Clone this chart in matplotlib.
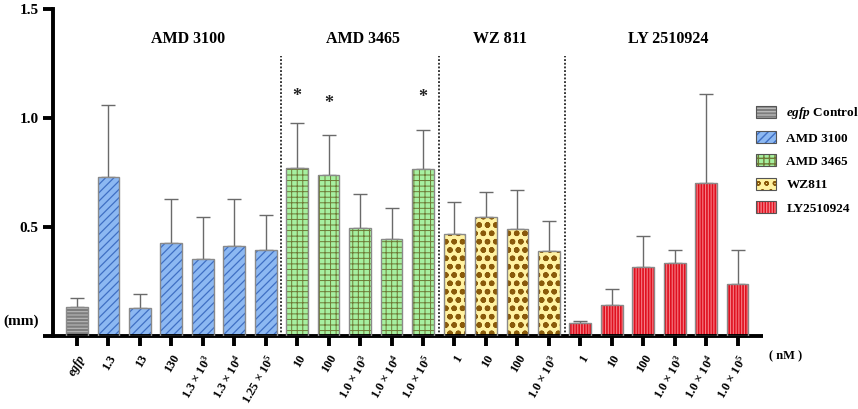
import numpy as np
import matplotlib
matplotlib.use("Agg")
import matplotlib.pyplot as plt
from matplotlib.patches import Patch

plt.rcParams['font.family'] = ['Liberation Serif', 'DejaVu Serif']
plt.rcParams['font.weight'] = 'bold'
plt.rcParams['mathtext.fontset'] = 'custom'
plt.rcParams['mathtext.rm'] = 'Liberation Serif:bold'
plt.rcParams['mathtext.bf'] = 'Liberation Serif:bold'
plt.rcParams['mathtext.it'] = 'Liberation Serif:italic:bold'

# ---------------- data ----------------
tick_labels = ['egfp', '1.3', '13', '130', '1.3 × 10$^{3}$', '1.3 × 10$^{4}$', '1.25 × 10$^{5}$',
               '10', '100', '1.0 × 10$^{3}$', '1.0 × 10$^{4}$', '1.0 × 10$^{5}$',
               '1', '10', '100', '1.0 × 10$^{3}$',
               '1', '10', '100', '1.0 × 10$^{3}$', '1.0 × 10$^{4}$', '1.0 × 10$^{5}$']
groups = ['egfp'] + ['AMD3100'] * 6 + ['AMD3465'] * 5 + ['WZ811'] * 4 + ['LY2510924'] * 6
means = [0.132, 0.729, 0.127, 0.427, 0.353, 0.413, 0.393,
         0.771, 0.739, 0.497, 0.445, 0.765,
         0.466, 0.546, 0.492, 0.390,
         0.060, 0.141, 0.317, 0.336, 0.702, 0.237]
upper = [0.176, 1.058, 0.194, 0.628, 0.546, 0.628, 0.553,
         0.977, 0.923, 0.653, 0.587, 0.946,
         0.613, 0.659, 0.671, 0.528,
         0.069, 0.217, 0.459, 0.393, 1.109, 0.393]
star_idx = [7, 8, 11]
star_y = [1.10, 1.066, 1.096]
group_titles = ['AMD 3100', 'AMD 3465', 'WZ 811', 'LY 2510924']
group_title_x = [3.53, 9.08, 13.45, 18.8]
divider_x = [6.5, 11.5, 15.5]
legend_labels = ['$\\it{egfp}$ Control', 'AMD 3100', 'AMD 3465', 'WZ811', 'LY2510924']
legend_keys = ['egfp', 'AMD3100', 'AMD3465', 'WZ811', 'LY2510924']

styles = {
    'egfp':      dict(face='#7d7d7d', hcol='#b8b8b8', hatch='-----', hlw=0.8),
    'AMD3100':   dict(face='#8cb8f2', hcol='#3f6fc4', hatch='////', hlw=0.9),
    'AMD3465':   dict(face='#a6f0a0', hcol='#6e7a36', hatch='+++', hlw=0.7),
    'WZ811':     dict(face='#fff2a2', hcol='#8a5a0a', hatch='oo', hlw=1.6),
    'LY2510924': dict(face='#f57e86', hcol='#e0101e', hatch='||||||', hlw=1.2),
}
edge_col = '#8a8a8a'

means = np.array(means)
upper = np.array(upper)
err = upper - means
x = np.arange(len(means))

fig = plt.figure(figsize=(8.58, 4.09), dpi=100)
ax = fig.add_axes([0.0614, 0.1785, 0.889 - 0.0614, 0.978 - 0.1785])

width = 0.69
for key in legend_keys:
    idx = [i for i, g in enumerate(groups) if g == key]
    st = styles[key]
    with plt.rc_context({'hatch.linewidth': st['hlw']}):
        ax.bar(x[idx], means[idx], width=width, color=st['face'], edgecolor=st['hcol'],
               hatch=st['hatch'], linewidth=0, zorder=2)
    ax.bar(x[idx], means[idx], width=width, facecolor='none', edgecolor=edge_col,
           linewidth=1.0, zorder=3)

ax.errorbar(x, means, yerr=[np.zeros_like(err), err], fmt='none', ecolor='#6a6a6a',
            elinewidth=1.0, capsize=4.7, capthick=1.0, zorder=1)

for i, yv in zip(star_idx, star_y):
    ax.text(x[i], yv, '*', ha='center', va='center', fontsize=13, color='#222222')

for t, xv in zip(group_titles, group_title_x):
    ax.text(xv, 1.362, t, ha='center', va='center', fontsize=11.5, fontweight='bold')

for dv in divider_x:
    ax.plot([dv, dv], [0, 1.284], linestyle=(0, (1.2, 1.2)), color='black', lw=1.1, zorder=1)

ax.set_xlim(-0.77, 21.8)
ax.set_ylim(0, 1.5)
ax.set_yticks([0, 0.5, 1.0, 1.5])
ax.set_yticklabels(['', '0.5', '1.0', '1.5'], fontsize=11, fontweight='bold')
ax.set_xticks(x)
ax.set_xticklabels(tick_labels, rotation=60, ha='right', va='top', rotation_mode='anchor',
                   fontsize=9, fontweight='bold')
ax.get_xticklabels()[0].set_fontstyle('italic')

for s in ['top', 'right']:
    ax.spines[s].set_visible(False)
for s in ['left', 'bottom']:
    ax.spines[s].set_linewidth(2.8)
ax.tick_params(axis='y', length=7, width=2.8, pad=3)
ax.tick_params(axis='x', length=7, width=2.8, pad=5)
ax.spines['bottom'].set_capstyle('butt')

fig.text(21 / 858, 1 - 321 / 409, '(mm)', ha='center', va='center', fontsize=11, fontweight='bold')
fig.text(786 / 858, 1 - 356 / 409, '( nM )', ha='center', va='center', fontsize=9, fontweight='bold')

handles = []
for key in legend_keys:
    st = styles[key]
    with plt.rc_context({'hatch.linewidth': st['hlw']}):
        p1 = Patch(facecolor=st['face'], edgecolor=st['hcol'], hatch=st['hatch'], linewidth=0)
    p2 = Patch(facecolor='none', edgecolor='#555555', linewidth=0.8)
    handles.append((p1, p2))
leg = fig.legend(handles, legend_labels, loc='upper left', bbox_to_anchor=(0.875, 1 - 100 / 409),
                 frameon=False, fontsize=9.5, handlelength=1.5, handleheight=1.0,
                 labelspacing=0.75, handletextpad=0.8, borderaxespad=0)

fig.savefig('out.png', dpi=100)
